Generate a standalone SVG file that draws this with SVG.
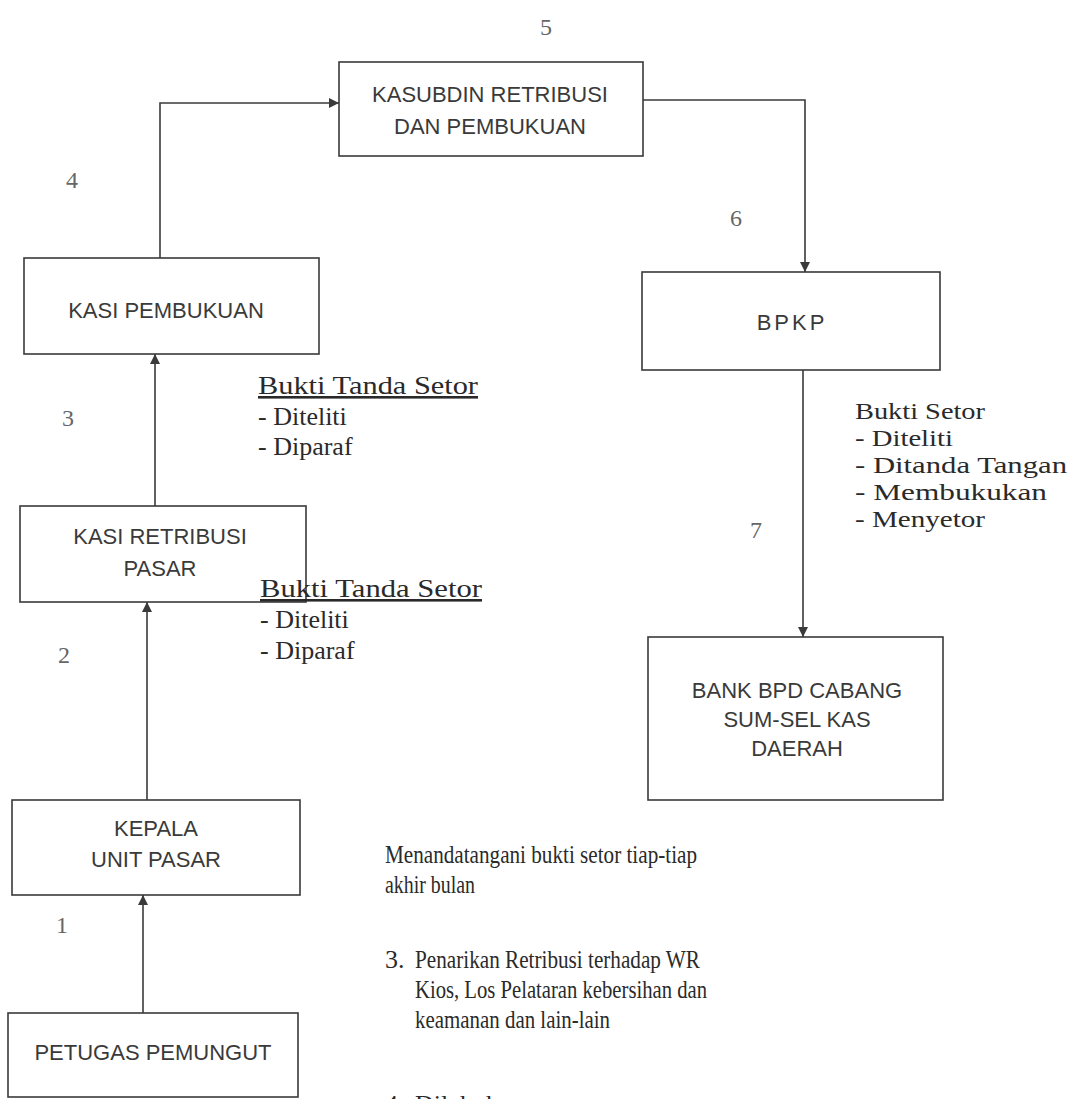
<svg xmlns="http://www.w3.org/2000/svg" width="1082" height="1099" viewBox="0 0 1082 1099">
<style>
.box{fill:#fff;stroke:#3a3a3a;stroke-width:1.6}
.bt{font-family:"Liberation Sans",Arial,sans-serif;font-size:22px;fill:#3a3a3a;text-anchor:middle}
.st{font-family:"Liberation Serif","Times New Roman",serif;font-size:26px;fill:#2a2a2a}
.rt{font-family:"Liberation Serif","Times New Roman",serif;font-size:24px;fill:#2a2a2a}
.pt{font-family:"Liberation Serif","Times New Roman",serif;font-size:26px;fill:#2a2a2a}
.num{font-family:"Liberation Serif","Times New Roman",serif;font-size:24px;fill:#666}
.ln{fill:none;stroke:#3a3a3a;stroke-width:1.6}
</style>
<defs>
<marker id="ah" viewBox="0 0 10 10" refX="10" refY="5" markerWidth="10" markerHeight="12" markerUnits="userSpaceOnUse" orient="auto">
<path d="M0,0 L10,5 L0,10 z" fill="#3a3a3a"/>
</marker>
</defs>
<rect width="1082" height="1099" fill="#fff"/>
<g id="connectors">
<path class="ln" d="M143,1013 L143,895" marker-end="url(#ah)"/>
<path class="ln" d="M147,800 L147,602" marker-end="url(#ah)"/>
<path class="ln" d="M155,506 L155,354" marker-end="url(#ah)"/>
<path class="ln" d="M160,258 L160,103 L339,103" marker-end="url(#ah)"/>
<path class="ln" d="M643,100 L805,100 L805,272" marker-end="url(#ah)"/>
<path class="ln" d="M803,370 L803,637" marker-end="url(#ah)"/>
</g>
<g id="n-kasubdin">
<rect class="box" x="339" y="62" width="304" height="94"/>
<text class="bt" x="490" y="102" font-size="23">KASUBDIN RETRIBUSI</text>
<text class="bt" x="490" y="134" font-size="23">DAN PEMBUKUAN</text>
</g>
<g id="n-kasi-pembukuan">
<rect class="box" x="24" y="258" width="295" height="96"/>
<text class="bt" x="166" y="318">KASI PEMBUKUAN</text>
</g>
<g id="n-bpkp">
<rect class="box" x="642" y="272" width="298" height="98"/>
<text class="bt" x="792" y="330" letter-spacing="3">BPKP</text>
</g>
<g id="n-kasi-retribusi">
<rect class="box" x="20" y="506" width="286" height="96"/>
<text class="bt" x="160" y="544">KASI RETRIBUSI</text>
<text class="bt" x="160" y="576">PASAR</text>
</g>
<g id="n-bank">
<rect class="box" x="648" y="637" width="295" height="163"/>
<text class="bt" x="797" y="698">BANK BPD CABANG</text>
<text class="bt" x="797" y="727">SUM-SEL KAS</text>
<text class="bt" x="797" y="756">DAERAH</text>
</g>
<g id="n-kepala">
<rect class="box" x="12" y="800" width="288" height="95"/>
<text class="bt" x="156" y="836">KEPALA</text>
<text class="bt" x="156" y="867">UNIT PASAR</text>
</g>
<g id="n-petugas">
<rect class="box" x="8" y="1013" width="290" height="84"/>
<text class="bt" x="153" y="1060">PETUGAS PEMUNGUT</text>
</g>
<g id="labels">
<text class="num" x="540" y="35">5</text>
<text class="num" x="66" y="188">4</text>
<text class="num" x="730" y="226">6</text>
<text class="num" x="62" y="426">3</text>
<text class="num" x="58" y="663">2</text>
<text class="num" x="750" y="538">7</text>
<text class="num" x="56" y="933">1</text>
<text class="st" x="258" y="394" text-decoration="underline" textLength="220" lengthAdjust="spacingAndGlyphs">Bukti Tanda Setor</text>
<text class="st" x="258" y="425">- Diteliti</text>
<text class="st" x="258" y="455">- Diparaf</text>
<text class="st" x="260" y="597" text-decoration="underline" textLength="222" lengthAdjust="spacingAndGlyphs">Bukti Tanda Setor</text>
<text class="st" x="260" y="628">- Diteliti</text>
<text class="st" x="260" y="659">- Diparaf</text>
<text class="rt" x="855" y="419" textLength="130" lengthAdjust="spacingAndGlyphs">Bukti Setor</text>
<text class="rt" x="855" y="446" textLength="98" lengthAdjust="spacingAndGlyphs">- Diteliti</text>
<text class="rt" x="855" y="473" textLength="212" lengthAdjust="spacingAndGlyphs">- Ditanda Tangan</text>
<text class="rt" x="855" y="500" textLength="192" lengthAdjust="spacingAndGlyphs">- Membukukan</text>
<text class="rt" x="855" y="527" textLength="130" lengthAdjust="spacingAndGlyphs">- Menyetor</text>
<text class="pt" x="385" y="863" textLength="312" lengthAdjust="spacingAndGlyphs">Menandatangani bukti setor tiap-tiap</text>
<text class="pt" x="385" y="893" textLength="90" lengthAdjust="spacingAndGlyphs">akhir bulan</text>
<text class="pt" x="385" y="968">3.</text>
<text class="pt" x="415" y="968" textLength="285" lengthAdjust="spacingAndGlyphs">Penarikan Retribusi terhadap WR</text>
<text class="pt" x="415" y="998" textLength="292" lengthAdjust="spacingAndGlyphs">Kios, Los Pelataran kebersihan dan</text>
<text class="pt" x="415" y="1028" textLength="195" lengthAdjust="spacingAndGlyphs">keamanan dan lain-lain</text>
<text class="pt" x="385" y="1113">4.</text>
<text class="pt" x="415" y="1113">Dilakukan</text>
</g>
</svg>
